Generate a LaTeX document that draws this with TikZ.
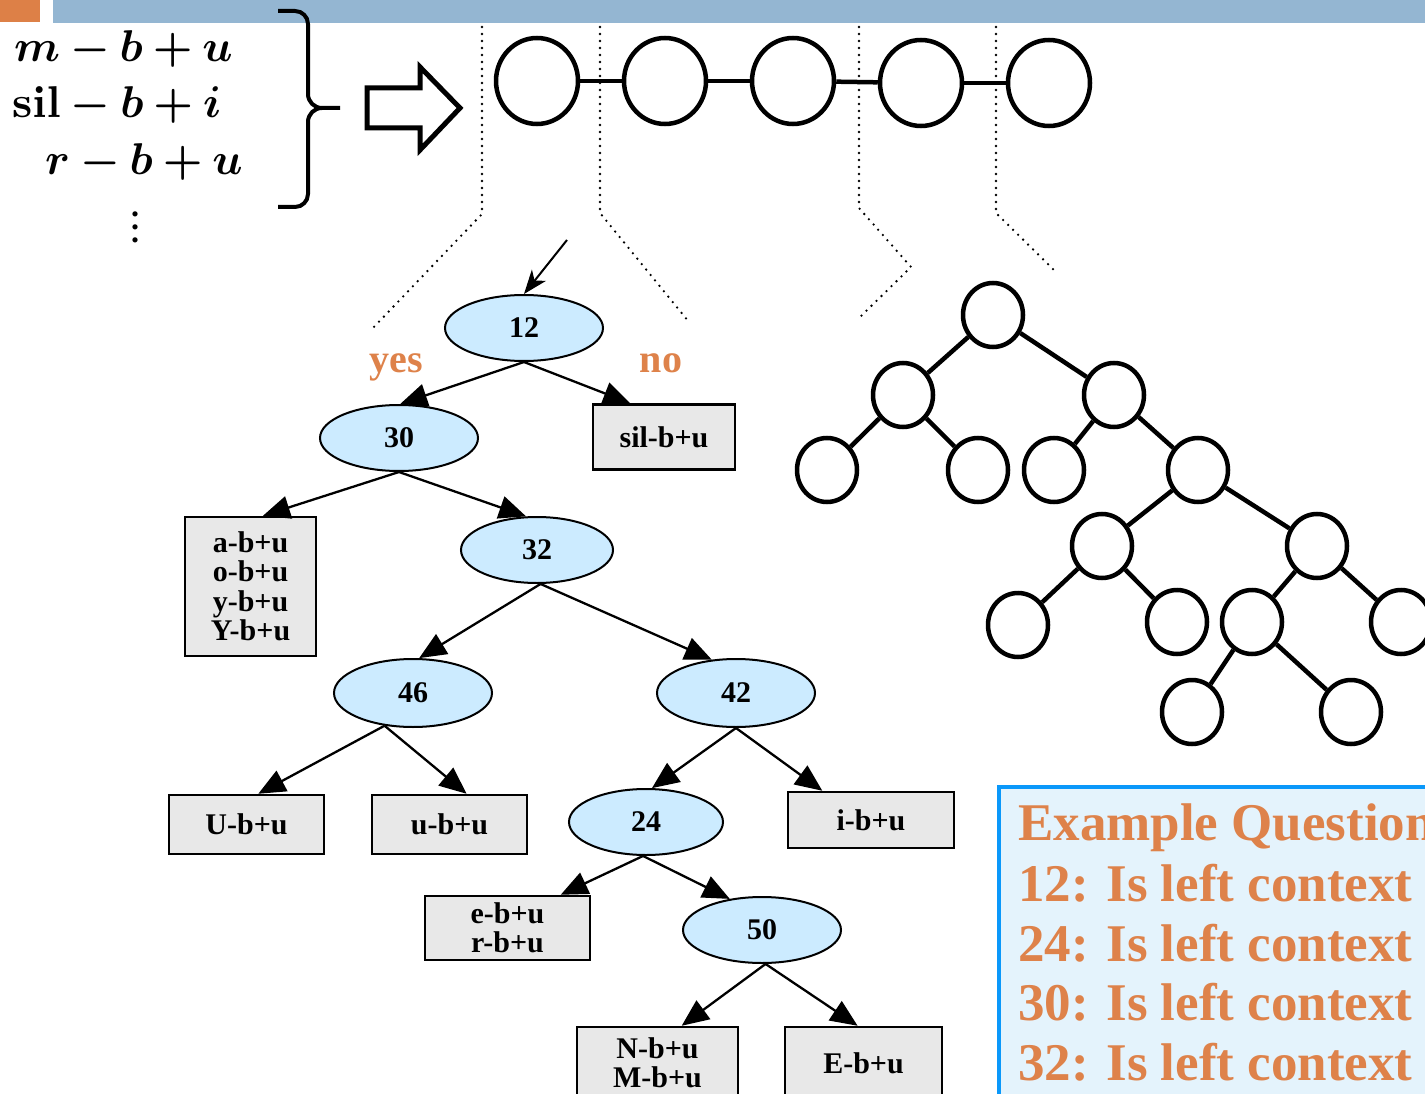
\documentclass[tikz,border=0pt]{standalone}
\usepackage[no-math]{fontspec}
\usepackage{bm}
\setmainfont{Liberation Serif}
\usetikzlibrary{shapes.geometric,arrows.meta}
\definecolor{barblue}{RGB}{148,182,210}
\definecolor{barorange}{RGB}{221,128,71}
\definecolor{qorange}{RGB}{222,130,74}
\definecolor{qfill}{RGB}{204,235,255}
\definecolor{leafgray}{RGB}{232,232,232}
\definecolor{panelblue}{RGB}{10,152,250}
\definecolor{panelfill}{RGB}{228,243,252}
\newcommand{\ctxmath}[1]{\scalebox{4.45}{$\bm{#1}$}}
\begin{document}
\begin{tikzpicture}[x=1pt,y=-1pt,
  qnode/.style={ellipse,draw,line width=2pt,fill=qfill,minimum width=158pt,minimum height=66pt,inner sep=0pt,
    font=\fontsize{30}{30}\selectfont\bfseries},
  leaf/.style={rectangle,draw,line width=2.5pt,fill=leafgray,inner sep=0pt,align=center,
    font=\fontsize{30}{29.5}\selectfont\bfseries},
  qedge/.style={line width=2.3pt,-{Triangle[length=27pt,width=23pt]}},
  hmmstate/.style={ellipse,draw,line width=4.5pt,fill=white,minimum width=82pt,minimum height=86pt,inner sep=0pt},
  tstate/.style={ellipse,draw,line width=4.5pt,fill=white,minimum width=60pt,minimum height=64pt,inner sep=0pt},
  tlink/.style={line width=4.5pt},
  guide/.style={line width=2.6pt,dash pattern=on 0pt off 7pt,line cap=round,line join=round},
  answer/.style={text=qorange,font=\fontsize{40}{40}\selectfont\bfseries,anchor=base},
  qline/.style={text=qorange,font=\fontsize{53}{53}\selectfont\bfseries,anchor=base west,inner sep=0pt},
  ctx/.style={anchor=base west,inner sep=0pt}
]
\useasboundingbox (0,0) rectangle (1425,1094);
\clip (0,0) rectangle (1425,1094);

% title bar
\fill[barorange] (0,0) rectangle (40,22);
\fill[barblue] (53,0) rectangle (1425,23);

% triphone contexts
\node[ctx] (t1) at (14,62) {\ctxmath{m-b+u}};
\node[ctx] (t2) at (12,118) {\ctxmath{\mathbf{sil}-b+i}};
\node[ctx] (t3) at (45,175) {\ctxmath{r-b+u}};
\node[ctx,anchor=center] (t4) at (135,218) {\scalebox{3.2}{$\bm{\vdots}$}};

% brace
\draw[line width=4pt] (278,11) -- (295,11) to[out=0,in=90] (308,24) -- (308,94)
  to[out=-90,in=180] (322,108) -- (340,108);
\draw[line width=4pt] (322,108) to[out=180,in=90] (308,122) -- (308,194)
  to[out=-90,in=0] (295,207) -- (278,207);

% hollow block arrow
\draw[line width=5pt,fill=white,line join=miter] (367,88) -- (420,88) -- (420,67) -- (460,108)
  -- (420,150) -- (420,128) -- (367,128) -- cycle;

% guide lines from the HMM states to their trees
\draw[guide] (482,27) -- (482,214) -- (372,329);
\draw[guide] (600,27) -- (600,213) -- (689,322);
\draw[guide] (859,27) -- (859,208) -- (911,267) -- (857,320);
\draw[guide] (996,27) -- (996,213) -- (1057,273);

% HMM state chain
\node[hmmstate] (c1) at (537,81) {};
\node[hmmstate] (c2) at (665,81) {};
\node[hmmstate] (c3) at (793,81) {};
\node[hmmstate] (c4) at (921,83) {};
\node[hmmstate] (c5) at (1049,83) {};
\draw[tlink] (c1) -- (c2);
\draw[tlink] (c2) -- (c3);
\draw[tlink] (c3) -- (c4);
\draw[tlink] (c4) -- (c5);

% decision tree
\node[qnode] (n12) at (524,328) {12};
\node[qnode] (n30) at (399,438) {30};
\node[qnode,minimum width=152pt] (n32) at (537,550) {32};
\node[qnode,minimum height=68pt] (n46) at (413,693) {46};
\node[qnode,minimum height=68pt] (n42) at (736,693) {42};
\node[qnode,minimum width=154pt] (n24) at (646,822) {24};
\node[qnode] (n50) at (762,930) {50};

\node[leaf,minimum width=142pt,minimum height=65pt] (lsil) at (664,437) {sil-b+u};
\node[leaf,minimum width=131pt,minimum height=139pt] (la) at (250.5,586.5) {a-b+u\\o-b+u\\y-b+u\\Y-b+u};
\node[leaf,minimum width=155pt,minimum height=59pt] (lU) at (246.5,824.5) {U-b+u};
\node[leaf,minimum width=155pt,minimum height=59pt] (lu) at (449.5,824.5) {u-b+u};
\node[leaf,minimum width=166pt,minimum height=56pt] (li) at (871,820) {i-b+u};
\node[leaf,minimum width=165pt,minimum height=64pt] (le) at (507.5,928) {e-b+u\\r-b+u};
\node[leaf,minimum width=161pt,minimum height=72pt] (lN) at (657.5,1063) {N-b+u\\M-b+u};
\node[leaf,minimum width=157pt,minimum height=72pt] (lE) at (863.5,1063) {E-b+u};

\coordinate (entry) at (567,240);
\draw[line width=2pt,-{Stealth[length=24pt,width=18pt,inset=7pt]}] (entry) -- (n12.north);

\draw[qedge] (n12.south) -- (n30.88);
\draw[qedge] (n12.south) -- (lsil.135);
\draw[qedge] (n30.south) -- (la.80);
\draw[qedge] (n30.south) -- (n32.108);
\draw[qedge] (n32.-84) -- (n46.80);
\draw[qedge] (n32.-84) -- (n42.126);
\draw[qedge] (n46.-131) -- (lU.69);
\draw[qedge] (n46.-131) -- (lu.61);
\draw[qedge] (n42.south) -- (n24.80);
\draw[qedge] (n42.south) -- (li.149);
\draw[qedge] (n24.-95) -- (le.32);
\draw[qedge] (n24.-95) -- (n50.136);
\draw[qedge] (n50.-84) -- (lN.57);
\draw[qedge] (n50.-84) -- (lE.99);

\node[answer] (yes) at (396,372) {yes};
\node[answer] (no) at (661,372) {no};

% second tree
\node[tstate] (r) at (993,315) {};
\node[tstate] (a) at (903,395) {};
\node[tstate] (b) at (1114,395) {};
\node[tstate] (a1) at (827,470) {};
\node[tstate] (a2) at (978,470) {};
\node[tstate] (b1) at (1054,470) {};
\node[tstate] (b2) at (1198,470) {};
\node[tstate] (c1n) at (1102,546) {};
\node[tstate] (c2n) at (1317,546) {};
\node[tstate] (d1) at (1018,625) {};
\node[tstate] (d2) at (1177,622) {};
\node[tstate] (d3) at (1252,622) {};
\node[tstate] (d4) at (1401,622) {};
\node[tstate] (e1) at (1192,712) {};
\node[tstate] (e2) at (1351,712) {};
\foreach \p/\c in {r/a,r/b,a/a1,a/a2,b/b1,b/b2,b2/c1n,b2/c2n,c1n/d1,c1n/d2,c2n/d3,c2n/d4,d3/e1,d3/e2}
  \draw[tlink] (\p) -- (\c);

% question panel
\draw[line width=4pt,draw=panelblue,fill=panelfill] (999,787) rectangle (1440,1120);
\node[qline] (q0) at (1018,840) {Example Questions};
\node[qline] (q1) at (1018,901) {12: Is left context};
\node[qline] (q2) at (1018,961) {24: Is left context};
\node[qline] (q3) at (1018,1020) {30: Is left context};
\node[qline] (q4) at (1018,1080) {32: Is left context};
\end{tikzpicture}
\end{document}
